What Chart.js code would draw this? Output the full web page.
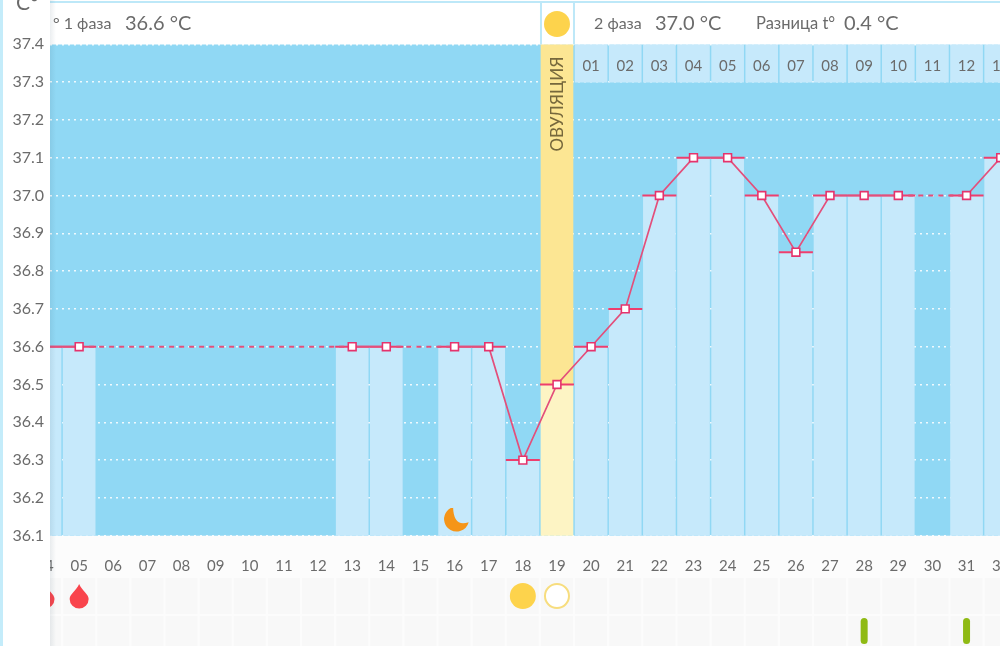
<!DOCTYPE html>
<html>
<head>
<meta charset="utf-8">
<title>График БТТ</title>
<script src="https://cdn.jsdelivr.net/npm/chart.js@4"></script>
<style>
    html, body { margin: 0; padding: 0; background: #fcfcfc; overflow: hidden; }
    canvas { display: block; }
</style>
</head>
<body>
<canvas id="tempChart" width="1000" height="646"></canvas>
<script>
// Chart values
const days = ['04', '05', '06', '07', '08', '09', '10', '11', '12', '13', '14', '15', '16', '17', '18', '19', '20', '21', '22', '23', '24', '25', '26', '27', '28', '29', '30', '31', '32'];
const temps = [36.6, 36.6, null, null, null, null, null, null, null, 36.6, 36.6, null, 36.6, 36.6, 36.3, 36.5, 36.6, 36.7, 37.0, 37.1, 37.1, 37.0, 36.85, 37.0, 37.0, 37.0, null, 37.0, 37.1];
const cycleDays = ['01', '02', '03', '04', '05', '06', '07', '08', '09', '10', '11', '12', '13'];
const cycleStartDay = '20';
const ovulationDay = '19';
const moonDays = ['16'];
const dropDays = ['04', '05'];
const sunDays = ['18'];
const ringDays = ['19'];
const pillDays = ['28', '31'];

const TEMP_MIN = 36.1;
const TEMP_MAX = 37.4;
const TEXT_COLOR = '#6b6b6b';
const FONT = 'Lato, "Noto Sans", sans-serif';

const dayIndex = d => days.indexOf(d);
const ovuIndex = dayIndex(ovulationDay);
const chipStart = dayIndex(cycleStartDay);

const measured = temps.map((t, i) => ({ x: i, y: t })).filter(p => p.y !== null);

// Everything around the plot that is not an axis: header, side panel, icon rows
const decorations = {
    id: 'decorations',
    beforeDraw(chart) {
        const ctx = chart.ctx;
        const area = chart.chartArea;
        const x = chart.scales.x;
        ctx.save();
        ctx.fillStyle = '#fcfcfc';
        ctx.fillRect(0, 0, chart.width, chart.height);
        ctx.fillStyle = '#90d8f4';
        ctx.fillRect(area.left, area.top, area.right - area.left, area.bottom - area.top);
        // pale cells of the icon rows
        ctx.fillStyle = '#f8f8f8';
        days.forEach((d, i) => {
            const px = x.getPixelForValue(i);
            ctx.fillRect(px - 16, 578, 32, 36);
            ctx.fillRect(px - 16, 616, 32, 30);
        });
        ctx.restore();
    },
    afterDatasetsDraw(chart) {
        const ctx = chart.ctx;
        const area = chart.chartArea;
        const x = chart.scales.x;
        ctx.save();

        // header strip
        ctx.fillStyle = '#ffffff';
        ctx.fillRect(area.left, 0, area.right - area.left, area.top);
        ctx.fillStyle = '#bde8f8';
        ctx.fillRect(area.left, 1, area.right - area.left, 2);
        const ovuX = x.getPixelForValue(ovuIndex);
        ctx.fillRect(ovuX - 17, 3, 2, area.top - 3);
        ctx.fillRect(ovuX + 16, 3, 2, area.top - 3);
        ctx.fillStyle = '#fdd34c';
        ctx.beginPath();
        ctx.arc(ovuX, 24, 13, 0, Math.PI * 2);
        ctx.fill();

        ctx.textBaseline = 'middle';
        ctx.textAlign = 'left';
        ctx.fillStyle = TEXT_COLOR;
        const headerText = [
            ['° 1 фаза', 53, 16], ['36.6 °C', 125, 20],
            ['2 фаза', 594, 16], ['37.0 °C', 655, 20],
            ['Разница t°', 756, 16.5], ['0.4 °C', 844, 20]
        ];
        headerText.forEach(([text, tx, size]) => {
            ctx.font = size + 'px ' + FONT;
            ctx.fillText(text, tx, 24);
        });

        // cycle day numbers in the top chips
        ctx.textAlign = 'center';
        ctx.font = '15px ' + FONT;
        cycleDays.forEach((label, i) => {
            ctx.fillText(label, x.getPixelForValue(chipStart + i), 66);
        });

        // ovulation label
        ctx.save();
        ctx.translate(ovuX, 104);
        ctx.rotate(-Math.PI / 2);
        ctx.font = '17px ' + FONT;
        ctx.fillStyle = '#76683c';
        ctx.fillText('ОВУЛЯЦИЯ', 0, 1);
        ctx.restore();

        // moon
        moonDays.forEach(d => {
            const px = x.getPixelForValue(dayIndex(d));
            ctx.fillStyle = '#f59518';
            ctx.beginPath();
            ctx.arc(px + 2, 519, 12.5, -106 * Math.PI / 180, 15 * Math.PI / 180, true);
            ctx.quadraticCurveTo(px - 1, 527.5, px - 1.5, 507);
            ctx.fill();
        });

        // icon rows
        dropDays.forEach(d => {
            const px = x.getPixelForValue(dayIndex(d));
            ctx.fillStyle = '#f9444c';
            ctx.beginPath();
            ctx.moveTo(px, 584);
            ctx.bezierCurveTo(px + 3, 591, px + 9.5, 594, px + 9.5, 599);
            ctx.arc(px, 599, 9.5, 0, Math.PI);
            ctx.bezierCurveTo(px - 9.5, 594, px - 3, 591, px, 584);
            ctx.fill();
        });
        sunDays.forEach(d => {
            ctx.fillStyle = '#fdd34c';
            ctx.beginPath();
            ctx.arc(x.getPixelForValue(dayIndex(d)), 596, 13, 0, Math.PI * 2);
            ctx.fill();
        });
        ringDays.forEach(d => {
            ctx.fillStyle = '#ffffff';
            ctx.strokeStyle = '#f7dd7e';
            ctx.lineWidth = 2;
            ctx.beginPath();
            ctx.arc(x.getPixelForValue(dayIndex(d)), 596, 12, 0, Math.PI * 2);
            ctx.fill();
            ctx.stroke();
        });
        pillDays.forEach(d => {
            ctx.fillStyle = '#8fba14';
            ctx.beginPath();
            ctx.roundRect(x.getPixelForValue(dayIndex(d)) - 3.5, 618, 7, 26, 3.5);
            ctx.fill();
        });

        // side panel over the plot's left edge, y labels are drawn on top of it
        ctx.fillStyle = '#ffffff';
        ctx.fillRect(0, 0, area.left, chart.height);
        ctx.fillStyle = '#c4ecfa';
        ctx.fillRect(0, 0, 3, chart.height);
        const shadow = ctx.createLinearGradient(area.left, 0, area.left + 6, 0);
        shadow.addColorStop(0, 'rgba(60,90,110,0.10)');
        shadow.addColorStop(1, 'rgba(60,90,110,0)');
        ctx.fillStyle = shadow;
        ctx.fillRect(area.left, 0, 6, chart.height);
        ctx.fillStyle = TEXT_COLOR;
        ctx.textAlign = 'left';
        ctx.font = '21px ' + FONT;
        ctx.fillText('C°', 16, 3);
        ctx.restore();
    }
};

const tempCtx = document.getElementById('tempChart').getContext('2d');
new Chart(tempCtx, {
    data: {
        datasets: [{
            type: 'line',
            order: 0,
            data: measured,
            borderColor: '#e34f7b',
            borderWidth: 1.7,
            tension: 0,
            spanGaps: true,
            segment: {
                borderDash: c => (c.p1.parsed.x - c.p0.parsed.x > 1 ? [5, 5] : undefined),
                borderWidth: c => (c.p1.parsed.x - c.p0.parsed.x > 1 ? 2 : undefined)
            },
            pointStyle: 'rect',
            pointRadius: 5.5,
            pointBorderWidth: 1.6,
            pointBackgroundColor: '#ffffff',
            pointBorderColor: '#e5336c'
        }, {
            // short level marks across each measured day
            type: 'line',
            order: 1,
            data: measured,
            showLine: false,
            pointStyle: 'line',
            pointRadius: 17,
            pointBorderWidth: 2,
            pointBorderColor: '#ee3e6e'
        }, {
            type: 'bar',
            order: 2,
            grouped: false,
            data: measured.filter(p => p.x !== ovuIndex).map(p => ({ x: p.x, y: [TEMP_MIN, p.y] })),
            backgroundColor: '#c6e9fb',
            barThickness: 32
        }, {
            // ovulation column, split at the day's temperature
            type: 'bar',
            order: 2,
            grouped: false,
            data: [
                { x: ovuIndex, y: [TEMP_MIN, temps[ovuIndex]] },
                { x: ovuIndex, y: [temps[ovuIndex], TEMP_MAX] }
            ],
            backgroundColor: ['#fdf4c4', '#fce693'],
            barThickness: 32
        }, {
            type: 'bar',
            order: 3,
            grouped: false,
            data: cycleDays.map((label, i) => ({ x: chipStart + i, y: [37.3, TEMP_MAX] })),
            backgroundColor: '#c6e9fb',
            barThickness: 32
        }]
    },
    options: {
        responsive: false,
        animation: false,
        events: [],
        layout: { autoPadding: false, padding: { top: 44.3 } },
        plugins: {
            legend: { display: false },
            tooltip: { enabled: false }
        },
        scales: {
            x: {
                type: 'linear',
                offset: false,
                min: 0.146,
                max: 27.98,
                grid: { display: false },
                border: { display: false },
                afterBuildTicks: scale => {
                    scale.ticks = days.map((d, i) => ({ value: i }));
                },
                afterFit: scale => {
                    scale.height = 110.3;
                    scale.paddingLeft = 0;
                    scale.paddingRight = 0;
                },
                ticks: {
                    autoSkip: false,
                    maxRotation: 0,
                    padding: 13,
                    color: TEXT_COLOR,
                    font: { family: FONT, size: 15 },
                    callback: value => days[value]
                }
            },
            y: {
                min: TEMP_MIN,
                max: TEMP_MAX,
                afterFit: scale => {
                    scale.width = 50;
                },
                grid: {
                    color: 'rgba(255,255,255,0.85)',
                    lineWidth: 1.5,
                    drawTicks: false
                },
                border: { display: false, dash: [2, 4] },
                ticks: {
                    z: 1,
                    stepSize: 0.1,
                    padding: 6,
                    color: TEXT_COLOR,
                    font: { family: FONT, size: 16 },
                    callback: value => value.toFixed(1)
                }
            }
        }
    },
    plugins: [decorations]
});
</script>
</body>
</html>
